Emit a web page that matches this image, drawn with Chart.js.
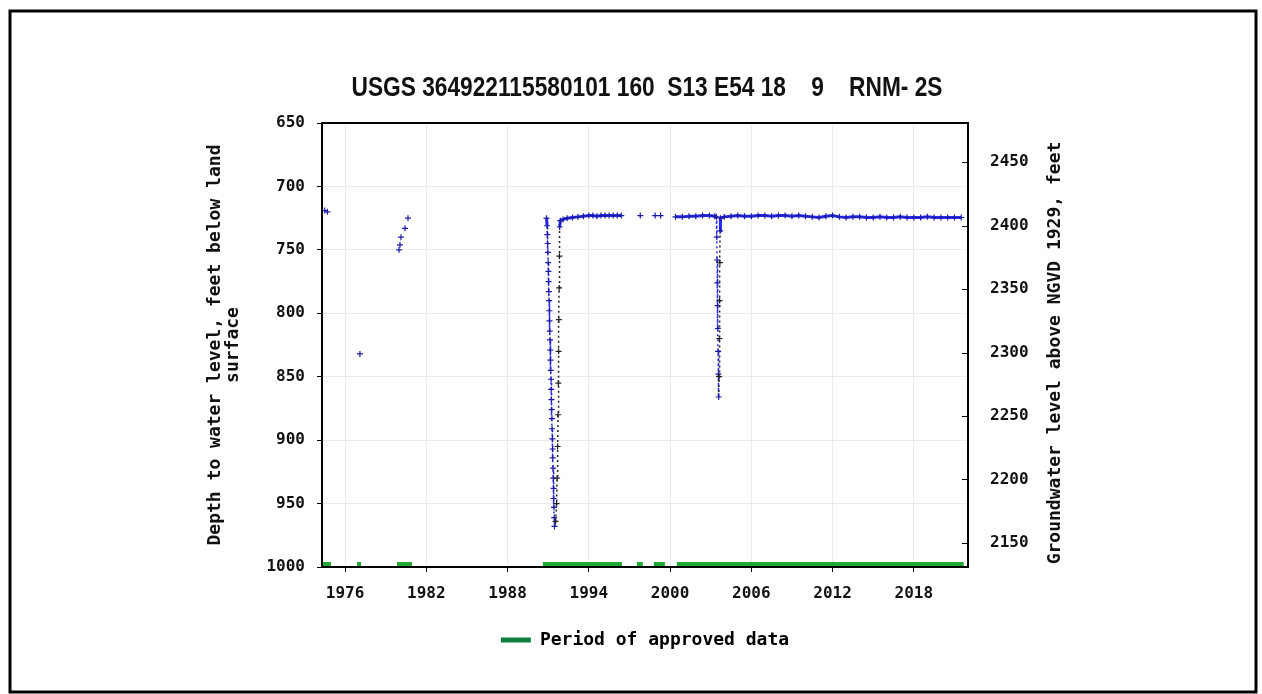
<!DOCTYPE html>
<html>
<head>
<meta charset="utf-8">
<script src="https://cdn.jsdelivr.net/npm/chart.js@4.4.0/dist/chart.umd.min.js"></script>
<style>
  html, body { margin: 0; padding: 0; background: #fff; }
  #wrap { width: 1262px; height: 694px; }
</style>
</head>
<body>
<div id="wrap"><canvas id="chart" width="1262" height="694"></canvas></div>
<script>
const chartTitle = "USGS 364922115580101 160  S13 E54 18    9    RNM- 2S";
const leftTitle = ["Depth to water level, feet below land", "surface"];
const rightTitle = "Groundwater level above NGVD 1929, feet";
const legendText = "Period of approved data";

const xTicks = [1976, 1982, 1988, 1994, 2000, 2006, 2012, 2018];
const depthTicks = [650, 700, 750, 800, 850, 900, 950, 1000];
const elevTicks = [2150, 2200, 2250, 2300, 2350, 2400, 2450];

// scattered early measurements (not connected)
const earlyYears = [1974.5, 1974.7, 1977.1, 1979.99, 1980.06, 1980.13, 1980.43, 1980.65];
const earlyDepth = [719, 720, 832, 750, 746, 740, 733, 725];

// continuous record, null depth = gap in the line
const wellYears = [
  1990.88, 1990.92, 1990.94, 1990.96, 1990.98, 1991.00, 1991.02, 1991.03, 1991.05, 1991.07,
  1991.09, 1991.10, 1991.12, 1991.14, 1991.16, 1991.17, 1991.19, 1991.21, 1991.22, 1991.24,
  1991.26, 1991.28, 1991.29, 1991.31, 1991.33, 1991.34, 1991.36, 1991.38, 1991.40, 1991.41,
  1991.43, 1991.45, 1991.47,
  1991.55, 1991.62, 1991.66, 1991.70, 1991.73, 1991.75, 1991.77, 1991.79, 1991.81, 1991.83, 1991.85,
  1991.9, 1992.1, 1992.4, 1992.8, 1993.2, 1993.6, 1994.0, 1994.3, 1994.6, 1994.9, 1995.2, 1995.5,
  1995.8, 1996.1, 1996.4,
  1997.0, 1997.8, 1998.3, 1998.9, 1999.1, 1999.3, 1999.8,
  2000.4, 2000.9, 2001.4, 2001.9, 2002.4, 2002.9, 2003.3,
  2003.42, 2003.45, 2003.47, 2003.49, 2003.51, 2003.53, 2003.55, 2003.57, 2003.59,
  2003.62, 2003.64, 2003.66, 2003.68, 2003.70, 2003.72,
  2004.0, 2004.5, 2005.0, 2005.5, 2006.0, 2006.5, 2007.0, 2007.5, 2008.0, 2008.5,
  2009.0, 2009.5, 2010.0, 2010.5, 2011.0, 2011.5, 2012.0, 2012.5, 2013.0, 2013.5,
  2014.0, 2014.5, 2015.0, 2015.5, 2016.0, 2016.5, 2017.0, 2017.5, 2018.0, 2018.5,
  2019.0, 2019.5, 2020.0, 2020.5, 2021.0, 2021.5
];
const wellDepth = [
  725, 731, 738, 745, 752, 760, 767, 775, 783, 790,
  798, 806, 814, 821, 829, 837, 845, 852, 860, 868,
  876, 883, 891, 899, 907, 914, 922, 930, 938, 946,
  953, 961, 968,
  964, 950, 930, 905, 880, 855, 830, 805, 780, 755, 732,
  727, 726, 725, 724.5, 724, 723.5, 723, 723, 723.5, 723, 723, 723,
  723, 723, 723,
  null, 723, null, 723, null, 723, null,
  724, 724, 723.5, 723.5, 723, 723, 723.5,
  724, 740, 758, 776, 794, 812, 830, 848, 866,
  850, 820, 790, 760, 735, 725,
  724, 723.5, 723, 723.5, 723.5, 723, 723, 723.5, 723, 723,
  723.5, 723, 723.5, 724, 724.5, 723.5, 723, 724, 724.5, 724,
  724, 724.5, 724.5, 724, 724.5, 724.5, 724, 724.5, 724.5, 724.5,
  724, 724.5, 724.5, 724.5, 724.5, 724.5
];

// periods of approved data
const approvedStart = [1974.3, 1976.89, 1979.84, 1990.61, 1997.55, 1998.8, 2000.5];
const approvedEnd = [1974.97, 1977.18, 1980.94, 1996.44, 1997.99, 1999.62, 2021.68];
const approvedDepth = 998.5;

const landSurface = 3131; // elevation = landSurface - depth

const monoFont = '"DejaVu Sans Mono", "Liberation Mono", monospace';

const earlyData = earlyYears.map((x, i) => ({ x, y: earlyDepth[i] }));
const wellData = wellYears.map((x, i) => ({ x, y: wellDepth[i] }));
const approvedData = [];
approvedStart.forEach((s, i) => {
  approvedData.push({ x: s, y: approvedDepth });
  approvedData.push({ x: approvedEnd[i], y: approvedDepth });
  approvedData.push({ x: (approvedEnd[i] + (approvedStart[i + 1] || approvedEnd[i] + 1)) / 2, y: null });
});

function isDeep(ctx) {
  return Math.max(ctx.p0.parsed.y, ctx.p1.parsed.y) > 735;
}

function pointColor(ctx) {
  const i = ctx.dataIndex;
  const d = wellDepth[i];
  const prev = wellDepth[i - 1];
  if (d > 735 && prev != null && d < prev) return "#222";
  return "#1b1ba8";
}

const framePlugin = {
  id: "frame",
  beforeDraw(chart) {
    const ctx = chart.ctx;
    ctx.save();
    ctx.fillStyle = "#fff";
    ctx.fillRect(0, 0, chart.width, chart.height);
    ctx.restore();
  },
  afterDraw(chart) {
    const { ctx, chartArea: a } = chart;
    ctx.save();
    ctx.strokeStyle = "#000";
    ctx.lineWidth = 2;
    ctx.strokeRect(a.left, a.top, a.right - a.left, a.bottom - a.top);
    // right axis tick marks sit inside the plot
    const y2 = chart.scales.y2;
    ctx.lineWidth = 1;
    elevTicks.forEach(v => {
      const py = Math.round(y2.getPixelForValue(v)) + 0.5;
      ctx.beginPath();
      ctx.moveTo(a.right - 6, py);
      ctx.lineTo(a.right, py);
      ctx.stroke();
    });
    ctx.lineWidth = 3;
    ctx.strokeRect(10, 11, 1246, 681);

    // chart title, squeezed to the width it has in the original
    ctx.fillStyle = "#111";
    ctx.textAlign = "center";
    ctx.textBaseline = "middle";
    ctx.font = 'bold 28px "Liberation Sans Narrow", "Liberation Sans", Arial, sans-serif';
    ctx.fillText(chartTitle, (a.left + a.right) / 2 + 2, 88, 591);

    ctx.translate(1055, (a.top + a.bottom) / 2 + 8);
    ctx.rotate(-Math.PI / 2);
    ctx.font = "bold 18px " + monoFont;
    ctx.fillText(rightTitle, 0, 0);
    ctx.restore();
  }
};

const ctx = document.getElementById("chart").getContext("2d");
const chart = new Chart(ctx, {
  type: "line",
  data: {
    datasets: [
      {
        label: "early",
        data: earlyData,
        showLine: false,
        pointStyle: "cross",
        pointRadius: 3,
        pointBorderWidth: 1.2,
        pointBorderColor: "#1b1ba8",
        yAxisID: "y"
      },
      {
        label: "well",
        data: wellData,
        spanGaps: false,
        borderColor: "#2a2af5",
        borderWidth: 3,
        pointStyle: "cross",
        pointRadius: 3,
        pointBorderWidth: 1.2,
        pointBorderColor: pointColor,
        tension: 0,
        segment: {
          borderDash: c => isDeep(c) ? [2, 3] : undefined,
          borderWidth: c => isDeep(c) ? 1.5 : undefined,
          borderColor: c => isDeep(c) && c.p1.parsed.y < c.p0.parsed.y ? "#222" : undefined
        },
        yAxisID: "y"
      },
      {
        label: legendText,
        data: approvedData,
        spanGaps: false,
        borderColor: "#22a836",
        borderWidth: 6,
        pointRadius: 0,
        clip: false,
        yAxisID: "y"
      }
    ]
  },
  options: {
    responsive: false,
    animation: false,
    layout: { padding: { left: 0, right: 0, top: 123, bottom: 35 } },
    plugins: {
      tooltip: { enabled: false },
      title: { display: false },
      legend: {
        position: "bottom",
        fullSize: false,
        labels: {
          boxWidth: 30,
          boxHeight: 5,
          padding: 19,
          color: "#111",
          font: { family: monoFont, size: 18, weight: "bold" },
          generateLabels: () => [{
            text: legendText,
            fillStyle: "#0f7d45",
            strokeStyle: "#0f7d45",
            lineWidth: 0,
            hidden: false,
            datasetIndex: 2
          }]
        }
      }
    },
    scales: {
      x: {
        type: "linear",
        min: 1974.3,
        max: 2022,
        afterBuildTicks: s => { s.ticks = xTicks.map(v => ({ value: v })); },
        afterFit: s => { s.height = 45; },
        grid: { color: "#ebebeb", tickColor: "#000", tickLength: 5 },
        border: { display: false },
        ticks: {
          callback: v => String(v),
          color: "#111",
          padding: 12,
          maxRotation: 0,
          font: { family: monoFont, size: 16, weight: "bold" }
        }
      },
      y: {
        type: "linear",
        position: "left",
        reverse: true,
        min: 650,
        max: 1000,
        afterBuildTicks: s => { s.ticks = depthTicks.map(v => ({ value: v })); },
        afterFit: s => { s.width = 322; },
        grid: { color: "#ebebeb", tickColor: "#000", tickLength: 5 },
        border: { display: false },
        title: {
          display: true,
          text: leftTitle,
          color: "#111",
          font: { family: monoFont, size: 18, weight: "bold", lineHeight: 1 },
          padding: { top: 206, bottom: 0 }
        },
        ticks: {
          callback: v => String(v),
          color: "#111",
          padding: 12,
          font: { family: monoFont, size: 16, weight: "bold" }
        }
      },
      y2: {
        type: "linear",
        position: "right",
        min: landSurface - 1000,
        max: landSurface - 650,
        afterBuildTicks: s => { s.ticks = elevTicks.map(v => ({ value: v })); },
        afterFit: s => { s.width = 294; },
        grid: { drawOnChartArea: false, drawTicks: false, tickLength: 5 },
        border: { display: false },
        ticks: {
          callback: v => String(v),
          color: "#111",
          padding: 22,
          font: { family: monoFont, size: 16, weight: "bold" }
        }
      }
    }
  },
  plugins: [framePlugin]
});
</script>
</body>
</html>
